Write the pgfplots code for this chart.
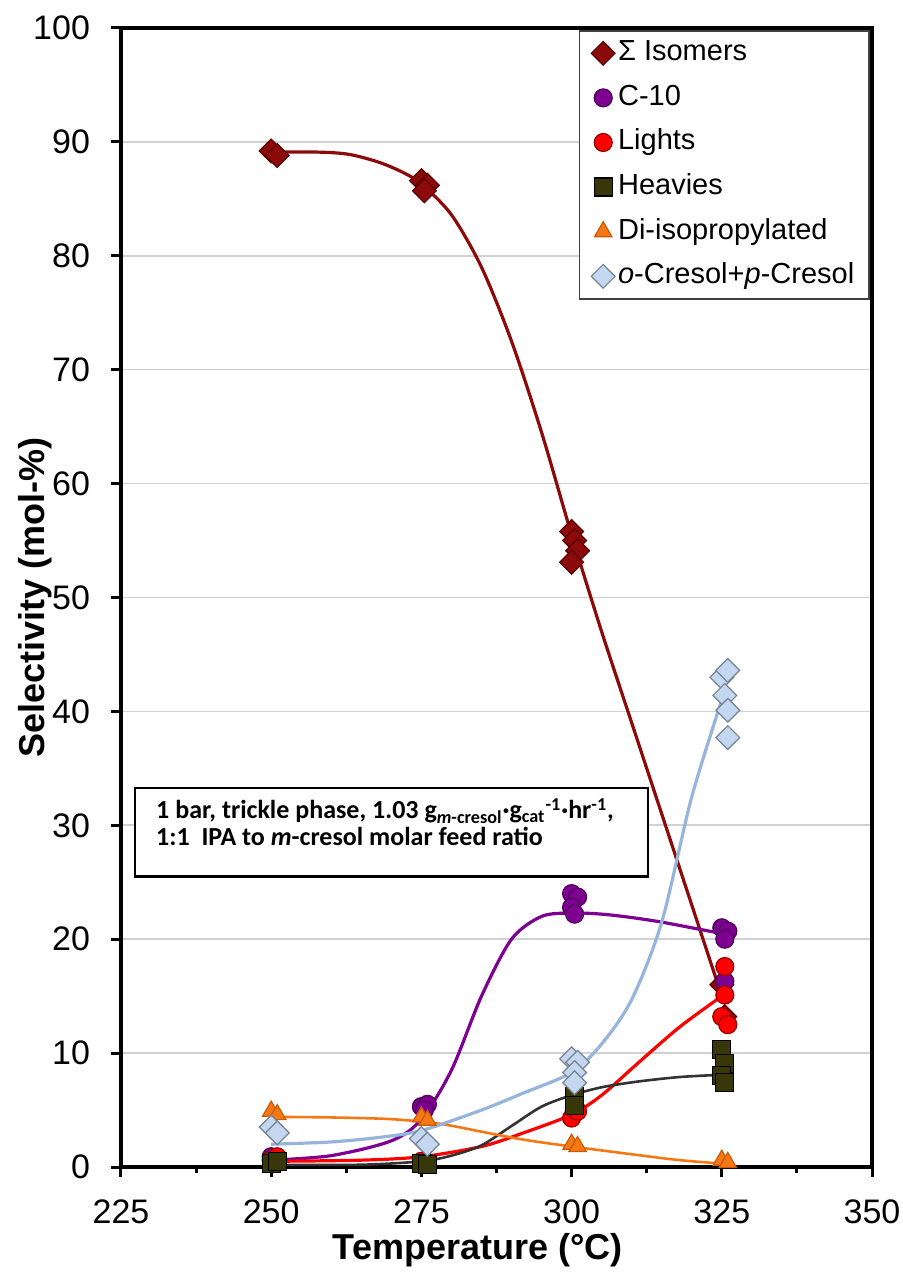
\documentclass[border=0pt]{standalone}
\usepackage{fontspec}
\setmainfont{Liberation Sans}
\newfontfamily\carlito{Carlito}
\usepackage{pgfplots}
\pgfplotsset{compat=1.18}
\definecolor{isored}{RGB}{140,10,10}
\definecolor{isoedge}{RGB}{90,0,0}
\definecolor{cten}{RGB}{125,0,145}
\definecolor{ctenedge}{RGB}{80,0,90}
\definecolor{lights}{RGB}{255,0,0}
\definecolor{lightsedge}{RGB}{150,0,0}
\definecolor{heavy}{RGB}{55,55,10}
\definecolor{heavyline}{RGB}{50,50,50}
\definecolor{diiso}{RGB}{245,120,20}
\definecolor{diisoedge}{RGB}{200,90,10}
\definecolor{cres}{RGB}{195,215,240}
\definecolor{cresedge}{RGB}{120,130,145}
\definecolor{cresline}{RGB}{150,180,220}
\begin{document}
\begin{tikzpicture}
\path[use as bounding box] (-60.5pt,-55.5pt) rectangle (390.5pt,583.5pt);
\begin{axis}[
  name=ax,
  width=375.5pt, height=569.5pt, scale only axis,
  xmin=225, xmax=350, ymin=0, ymax=100,
  xtick={225,250,...,350}, minor x tick num=1,
  ytick={0,10,...,100},
  xtick pos=left, ytick pos=left,
  tick align=outside,
  major tick length=5pt, minor tick length=3pt,
  every tick/.style={black, line width=1.5pt},
  ymajorgrids, grid style={draw=black!18, line width=0.8pt},
  axis line style={line width=2pt},
  /pgf/number format/assume math mode=true,
  ticklabel style={font=\fontsize{17}{19}\selectfont},
  yticklabel style={xshift=-7pt},
  xticklabel style={yshift=-8pt},
  every axis y label/.style={at={(axis description cs:-0.1145,0.5)}, rotate=90, anchor=center},
  every axis x label/.style={at={(axis description cs:0.475,-0.0729)}, anchor=center},
  ylabel={\bfseries\fontsize{18}{20}\selectfont Selectivity (mol-\%)},
  xlabel={\bfseries\fontsize{18}{20}\selectfont Temperature (°C)},
  legend cell align=left,
  legend style={at={(1,1)}, anchor=north east, xshift=-1pt, yshift=-1pt,
    draw=black!75, line width=0.8pt, fill=white,
    font=\fontsize{14.5}{17}\selectfont, row sep=5.8pt,
    inner xsep=6pt, inner ysep=3pt,
    nodes={inner sep=1.5pt, text height=10.5pt, text depth=3pt}},
]
% trend curves
\addplot[forget plot, isored, line width=1.6pt, smooth, tension=0.5] coordinates {
 (250,89.1)(258,89.1)(263,88.9)(268,88.2)(272,87.3)(275,86.3)(280,83.6)(285,79)(290,72.5)(295,64.5)(300,55.5)(305,47)(310,39)(315,31)(320,23)(325,15)};
\addplot[forget plot, cten, line width=1.6pt, smooth, tension=0.5] coordinates {
 (250,0.6)(260,1.0)(270,2.3)(275,4.2)(280,8.5)(285,15)(290,20)(295,22)(300,22.3)(305,22.2)(310,21.9)(315,21.5)(320,21)(325,20.5)};
\addplot[forget plot, lights, line width=1.6pt, smooth, tension=0.5] coordinates {
 (250,0.5)(265,0.6)(275,0.9)(285,1.8)(292,3.0)(300,4.6)(305,6.3)(311,9.1)(318,12.3)(325,15)};
\addplot[forget plot, heavyline, line width=1.3pt, smooth, tension=0.5] coordinates {
 (250,0.2)(265,0.2)(275,0.5)(280,1.0)(285,1.9)(290,3.6)(295,5.3)(300,6.3)(305,7.0)(311,7.5)(318,7.9)(325,8.1)};
\addplot[forget plot, diiso, line width=1.3pt, smooth, tension=0.5] coordinates {
 (250,4.4)(260,4.35)(270,4.2)(278,3.8)(285,3.1)(292,2.4)(300,1.8)(311,1.05)(318,0.6)(325,0.3)};
\addplot[forget plot, cresline, line width=1.6pt, smooth, tension=0.5] coordinates {
 (250,2.0)(260,2.2)(268,2.6)(275,3.2)(285,5.0)(292,6.5)(300,8.3)(305,10.8)(310,14.7)(315,21.5)(320,32.5)(325,41)};
% data markers
\addplot[only marks, mark=square*, mark size=4.2pt, mark options={rotate=45, fill=isored, draw=isoedge, line width=0.6pt}] coordinates {
 (250,89.2)(251,88.8)(275,86.6)(276,86.2)(275.5,85.7)(300,55.8)(300.5,55.0)(301,54.1)(300,53.1)(325,16.0)(325.5,13.2)};
\addlegendentry{Σ Isomers}
\addplot[only marks, mark=*, mark size=4.5pt, mark options={fill=cten, draw=ctenedge, line width=0.6pt}] coordinates {
 (250,0.9)(250.5,0.6)(275,5.3)(276,5.5)(275.5,5.0)(300,24.0)(301,23.7)(300,22.8)(300.5,22.2)(325,21.0)(326,20.7)(325.5,20.0)(325.5,16.3)};
\addlegendentry{C-10}
\addplot[only marks, mark=*, mark size=4.5pt, mark options={fill=lights, draw=lightsedge, line width=0.6pt}] coordinates {
 (250,0.6)(251,0.9)(275,0.5)(276,0.4)(300,4.3)(301,4.9)(325.5,17.6)(325.5,15.1)(325,13.2)(326,12.5)};
\addlegendentry{Lights}
\addplot[only marks, mark=square*, mark size=4.5pt, mark options={fill=heavy, draw=black, line width=0.6pt}] coordinates {
 (250,0.3)(251,0.5)(275,0.3)(276,0.2)(300.5,6.2)(300.5,5.4)(325,10.3)(325.5,9.1)(325,8.0)(325.5,7.4)};
\addlegendentry{Heavies}
\addplot[only marks, mark=triangle*, mark size=5pt, mark options={fill=diiso, draw=diisoedge, line width=0.6pt}] coordinates {
 (250,4.9)(251,4.6)(275,4.4)(276,4.1)(300,2.0)(301,1.8)(325,0.6)(326,0.4)};
\addlegendentry{Di-isopropylated}
\addplot[only marks, mark=square*, mark size=4.2pt, mark options={rotate=45, fill=cres, draw=cresedge, line width=0.6pt}] coordinates {
 (250,3.5)(251,3.0)(275,2.5)(276,2.0)(300,9.5)(301,9.2)(300.5,8.3)(300.5,7.4)(325,43.0)(326,43.6)(325.5,41.4)(326,40.1)(326,37.7)};
\addlegendentry{\textit{o}-Cresol+\textit{p}-Cresol}
% condition box
\draw[line width=1.2pt, fill=white] (axis cs:227.3,33.3) rectangle (axis cs:312.7,25.5);
\node[anchor=north west, align=left, inner sep=0pt, font=\carlito\bfseries\fontsize{13}{13.5}\selectfont]
  at (axis cs:230.8,32.4)
  {1 bar, trickle phase, 1.03 g\textsubscript{\textit{m}-cresol}·g\textsubscript{cat}\textsuperscript{-1}·hr\textsuperscript{-1},\\1:1~ IPA to \textit{m}-cresol molar feed ratio};
\end{axis}
\end{tikzpicture}
\end{document}
